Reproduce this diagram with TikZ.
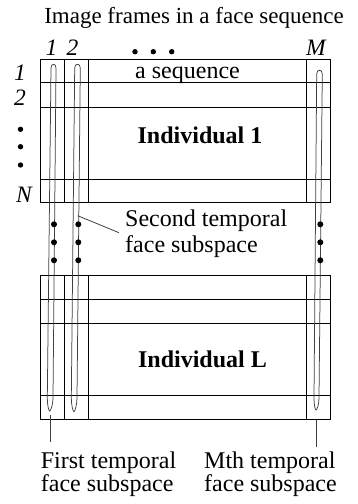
\documentclass[tikz,border=0pt]{standalone}
\usepackage{fontspec}
\setmainfont{Liberation Serif}
\begin{document}
\begin{tikzpicture}[x=1pt,y=-1pt,
  grid/.style={line width=0.9pt,black},
  loopline/.style={line width=0.75pt,black!75},
  pointer/.style={line width=0.8pt,black!75},
  lbl/.style={inner sep=0pt,font=\fontsize{24}{26}\selectfont},
  ilbl/.style={lbl,font=\fontsize{23.5}{25}\selectfont\itshape},
  blbl/.style={lbl,font=\fontsize{24}{26}\selectfont\bfseries},
  seqdot/.style={circle,fill=black,inner sep=0pt,minimum size=5.4pt},
  subdot/.style={circle,fill=black,inner sep=0pt,minimum size=6pt}]
\useasboundingbox (0,0) rectangle (357,504);

% title and index labels
\node[lbl,anchor=base,font=\fontsize{23}{25}\selectfont] (title) at (194,23) {Image frames in a face sequence};
\node[ilbl,anchor=base] (c1) at (51.5,55) {1};
\node[ilbl,anchor=base] (c2) at (72.5,55) {2};
\node[ilbl,anchor=base] (cM) at (316,55) {M};
\foreach \x [count=\i] in {135,153.3,171.7} \node[seqdot] (cd\i) at (\x,51.7) {};
\node[ilbl,anchor=base] (r1) at (20,80) {1};
\node[ilbl,anchor=base] (r2) at (20,105) {2};
\foreach \y [count=\i] in {129.3,146.7,165} \node[seqdot] (rd\i) at (20.5,\y) {};
\node[ilbl,anchor=base] (rN) at (24,202) {N};

% the two individuals' frame grids
\foreach \t/\a/\b/\c/\bot in {59/82.3/107.3/179/202.3, 275/299.3/323.3/395.7/419}{
  \draw[grid] (40.3,\t) rectangle (330.7,\bot);
  \foreach \y in {\a,\b,\c} \draw[grid] (40.3,\y) -- (330.7,\y);
  \foreach \x in {64.3,88.7,306.3} \draw[grid] (\x,\t) -- (\x,\bot);
}
\node[lbl,anchor=base] (seq) at (187.5,78.3) {a sequence};
\node[blbl,anchor=base] (ind1) at (200,143.3) {Individual 1};
\node[blbl,anchor=base] (indL) at (202.5,367.3) {Individual L};

% temporal face subspaces (one loop per frame column)
\draw[loopline] (51,68) .. controls (51,63) and (56,63) .. (56,68)
  -- (53,398) .. controls (53,405) and (50.5,411) .. (49.7,411)
  .. controls (48.7,411) and (47.3,405) .. (47.3,398) -- cycle;
\draw[loopline] (74.7,68) .. controls (74.7,63) and (80.3,63) .. (80.3,68)
  -- (77,398) .. controls (77,405) and (74.8,411.7) .. (74,411.7)
  .. controls (73,411.7) and (71.3,405) .. (71.3,398) -- cycle;
\draw[loopline] (316.7,74) .. controls (316.7,69) and (322.3,69) .. (322.3,74)
  -- (319,398) .. controls (319,405) and (316.8,410) .. (316,410)
  .. controls (315.2,410) and (314,405) .. (314,398) -- cycle;

% dots between the individuals
\foreach \x/\n in {54/a,78.3/b,320.3/m}
  \foreach \y [count=\i] in {224.3,242.3,260.3} \node[subdot] (v\n\i) at (\x,\y) {};

% labels with pointers
\node[lbl,anchor=base west] (sec1) at (125,226.7) {Second temporal};
\node[lbl,anchor=base west] (sec2) at (125,252.3) {face subspace};
\node[lbl,anchor=base west] (fst1) at (40.7,468.3) {First temporal};
\node[lbl,anchor=base west] (fst2) at (40.7,491.7) {face subspace};
\node[lbl,anchor=base west] (mth1) at (204,468.3) {Mth temporal};
\node[lbl,anchor=base west] (mth2) at (204,491.7) {face subspace};

\coordinate (s2a) at (77.7,215.7);
\coordinate (s2b) at (119,232.7);
\coordinate (f1a) at (50,415);
\coordinate (f1b) at (50,442);
\coordinate (fma) at (316,419.5);
\coordinate (fmb) at (316,447);
\draw[pointer] (s2a) -- (s2b);
\draw[pointer] (f1a) -- (f1b);
\draw[pointer] (fma) -- (fmb);
\end{tikzpicture}
\end{document}
